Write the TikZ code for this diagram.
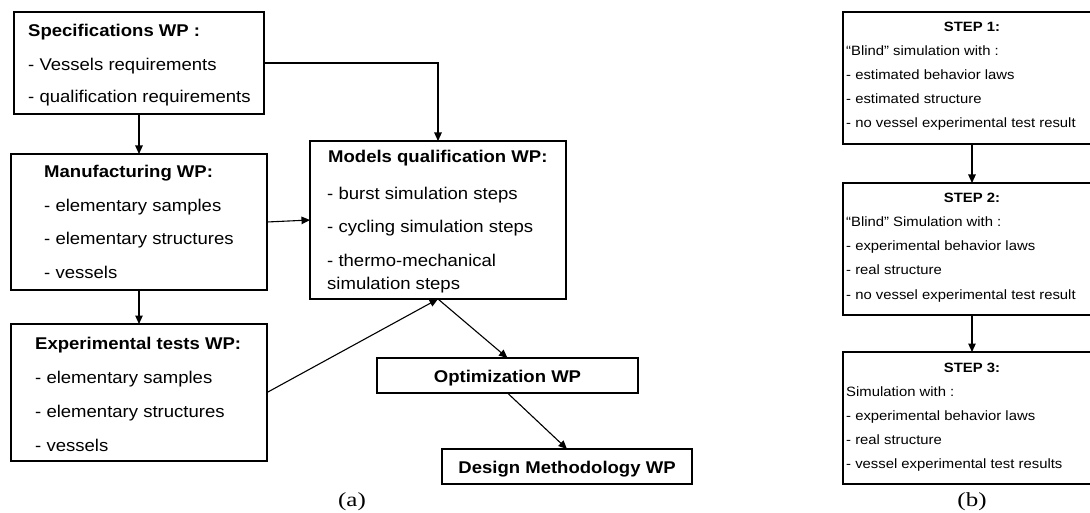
\documentclass[tikz,border=0pt]{standalone}
\usepackage{fontspec}
\usetikzlibrary{arrows.meta}
\newfontfamily\lfont[FakeStretch=1.09]{Liberation Sans}
\newfontfamily\rfont[FakeStretch=1.1]{Liberation Sans}
\newfontfamily\capfont[FakeStretch=1.25]{Liberation Serif}
\begin{document}
\begin{tikzpicture}[x=1pt,y=-1pt,
  box/.style={draw=black, line width=1.1pt, anchor=north west, inner sep=0pt, outer sep=0pt},
  ltxt/.style={anchor=base west, inner sep=0pt, font=\lfont\fontsize{17}{20}\selectfont},
  ltitle/.style={anchor=base west, inner sep=0pt, font=\lfont\bfseries\fontsize{17}{20}\selectfont},
  ctitle/.style={anchor=base, inner sep=0pt, font=\lfont\bfseries\fontsize{17}{20}\selectfont},
  rtxt/.style={anchor=base west, inner sep=0pt, font=\rfont\fontsize{13.5}{16}\selectfont},
  rtitle/.style={anchor=base, inner sep=0pt, font=\rfont\bfseries\fontsize{13.5}{16}\selectfont},
  caplabel/.style={anchor=base, inner sep=0pt, font=\capfont\fontsize{20}{22}\selectfont},
  arr/.style={line width=1.1pt, -{Triangle[length=8.5pt,width=7.5pt]}},
]
\useasboundingbox (0,0) rectangle (1090,513);
\clip (0,0) rectangle (1090,513);

% ---------- (a) ----------
\node[box, minimum width=250pt, minimum height=102pt] (spec) at (14,12) {};
\node[ltitle] (sp1) at (28,37) {Specifications WP :};
\node[ltxt] (sp2) at (28,71) {- Vessels requirements};
\node[ltxt] (sp3) at (28,103) {- qualification requirements};

\node[box, minimum width=256pt, minimum height=136pt] (manuf) at (11,154) {};
\node[ltitle] (mf1) at (44,178) {Manufacturing WP:};
\node[ltxt] (mf2) at (44,212) {- elementary samples};
\node[ltxt] (mf3) at (44,245) {- elementary structures};
\node[ltxt] (mf4) at (44,278) {- vessels};

\node[box, minimum width=256pt, minimum height=137pt] (exp) at (11,324) {};
\node[ltitle] (ex1) at (35,349) {Experimental tests WP:};
\node[ltxt] (ex2) at (35,383) {- elementary samples};
\node[ltxt] (ex3) at (35,417) {- elementary structures};
\node[ltxt] (ex4) at (35,451) {- vessels};

\node[box, minimum width=256pt, minimum height=158pt] (models) at (310,141) {};
\node[ltitle] (mq1) at (328,163) {Models qualification WP:};
\node[ltxt] (mq2) at (327,200) {- burst simulation steps};
\node[ltxt] (mq3) at (327,233) {- cycling simulation steps};
\node[ltxt] (mq4) at (327,267) {- thermo-mechanical};
\node[ltxt] (mq5) at (327,289) {simulation steps};

\node[box, minimum width=261pt, minimum height=35pt] (optim) at (377,358) {};
\node[ctitle] (op1) at (507.5,382) {Optimization WP};

\node[box, minimum width=250pt, minimum height=35pt] (design) at (442,449) {};
\node[ctitle] (dm1) at (567,473) {Design Methodology WP};

\node[caplabel] (capa) at (352,506) {(a)};

\draw[arr] (spec.south) -- (manuf.north);
\draw[arr] (spec.east) -| (models.north);
\draw[arr] (manuf.east) -- (models.west);
\draw[arr] (manuf.south) -- (exp.north);
\draw[arr] (exp.east) -- (models.south);
\draw[arr] (models.south) -- (optim.north);
\draw[arr] (optim.south) -- (design.north);

% ---------- (b) ----------
\node[box, minimum width=258pt, minimum height=132pt] (step1) at (843,12) {};
\node[rtitle] (s1a) at (972,32) {STEP 1:};
\node[rtxt] (s1b) at (846,56) {“Blind” simulation with :};
\node[rtxt] (s1c) at (846,80) {- estimated behavior laws};
\node[rtxt] (s1d) at (846,104) {- estimated structure};
\node[rtxt] (s1e) at (846,128) {- no vessel experimental test result};

\node[box, minimum width=258pt, minimum height=132pt] (step2) at (843,183) {};
\node[rtitle] (s2a) at (972,203) {STEP 2:};
\node[rtxt] (s2b) at (846,227) {“Blind” Simulation with :};
\node[rtxt] (s2c) at (846,251) {- experimental behavior laws};
\node[rtxt] (s2d) at (846,275) {- real structure};
\node[rtxt] (s2e) at (846,299) {- no vessel experimental test result};

\node[box, minimum width=258pt, minimum height=132pt] (step3) at (843,352) {};
\node[rtitle] (s3a) at (972,372) {STEP 3:};
\node[rtxt] (s3b) at (846,396) {Simulation with :};
\node[rtxt] (s3c) at (846,420) {- experimental behavior laws};
\node[rtxt] (s3d) at (846,444) {- real structure};
\node[rtxt] (s3e) at (846,468) {- vessel experimental test results};

\node[caplabel] (capb) at (972,506) {(b)};

\draw[arr] (step1.south) -- (step2.north);
\draw[arr] (step2.south) -- (step3.north);
\end{tikzpicture}
\end{document}
